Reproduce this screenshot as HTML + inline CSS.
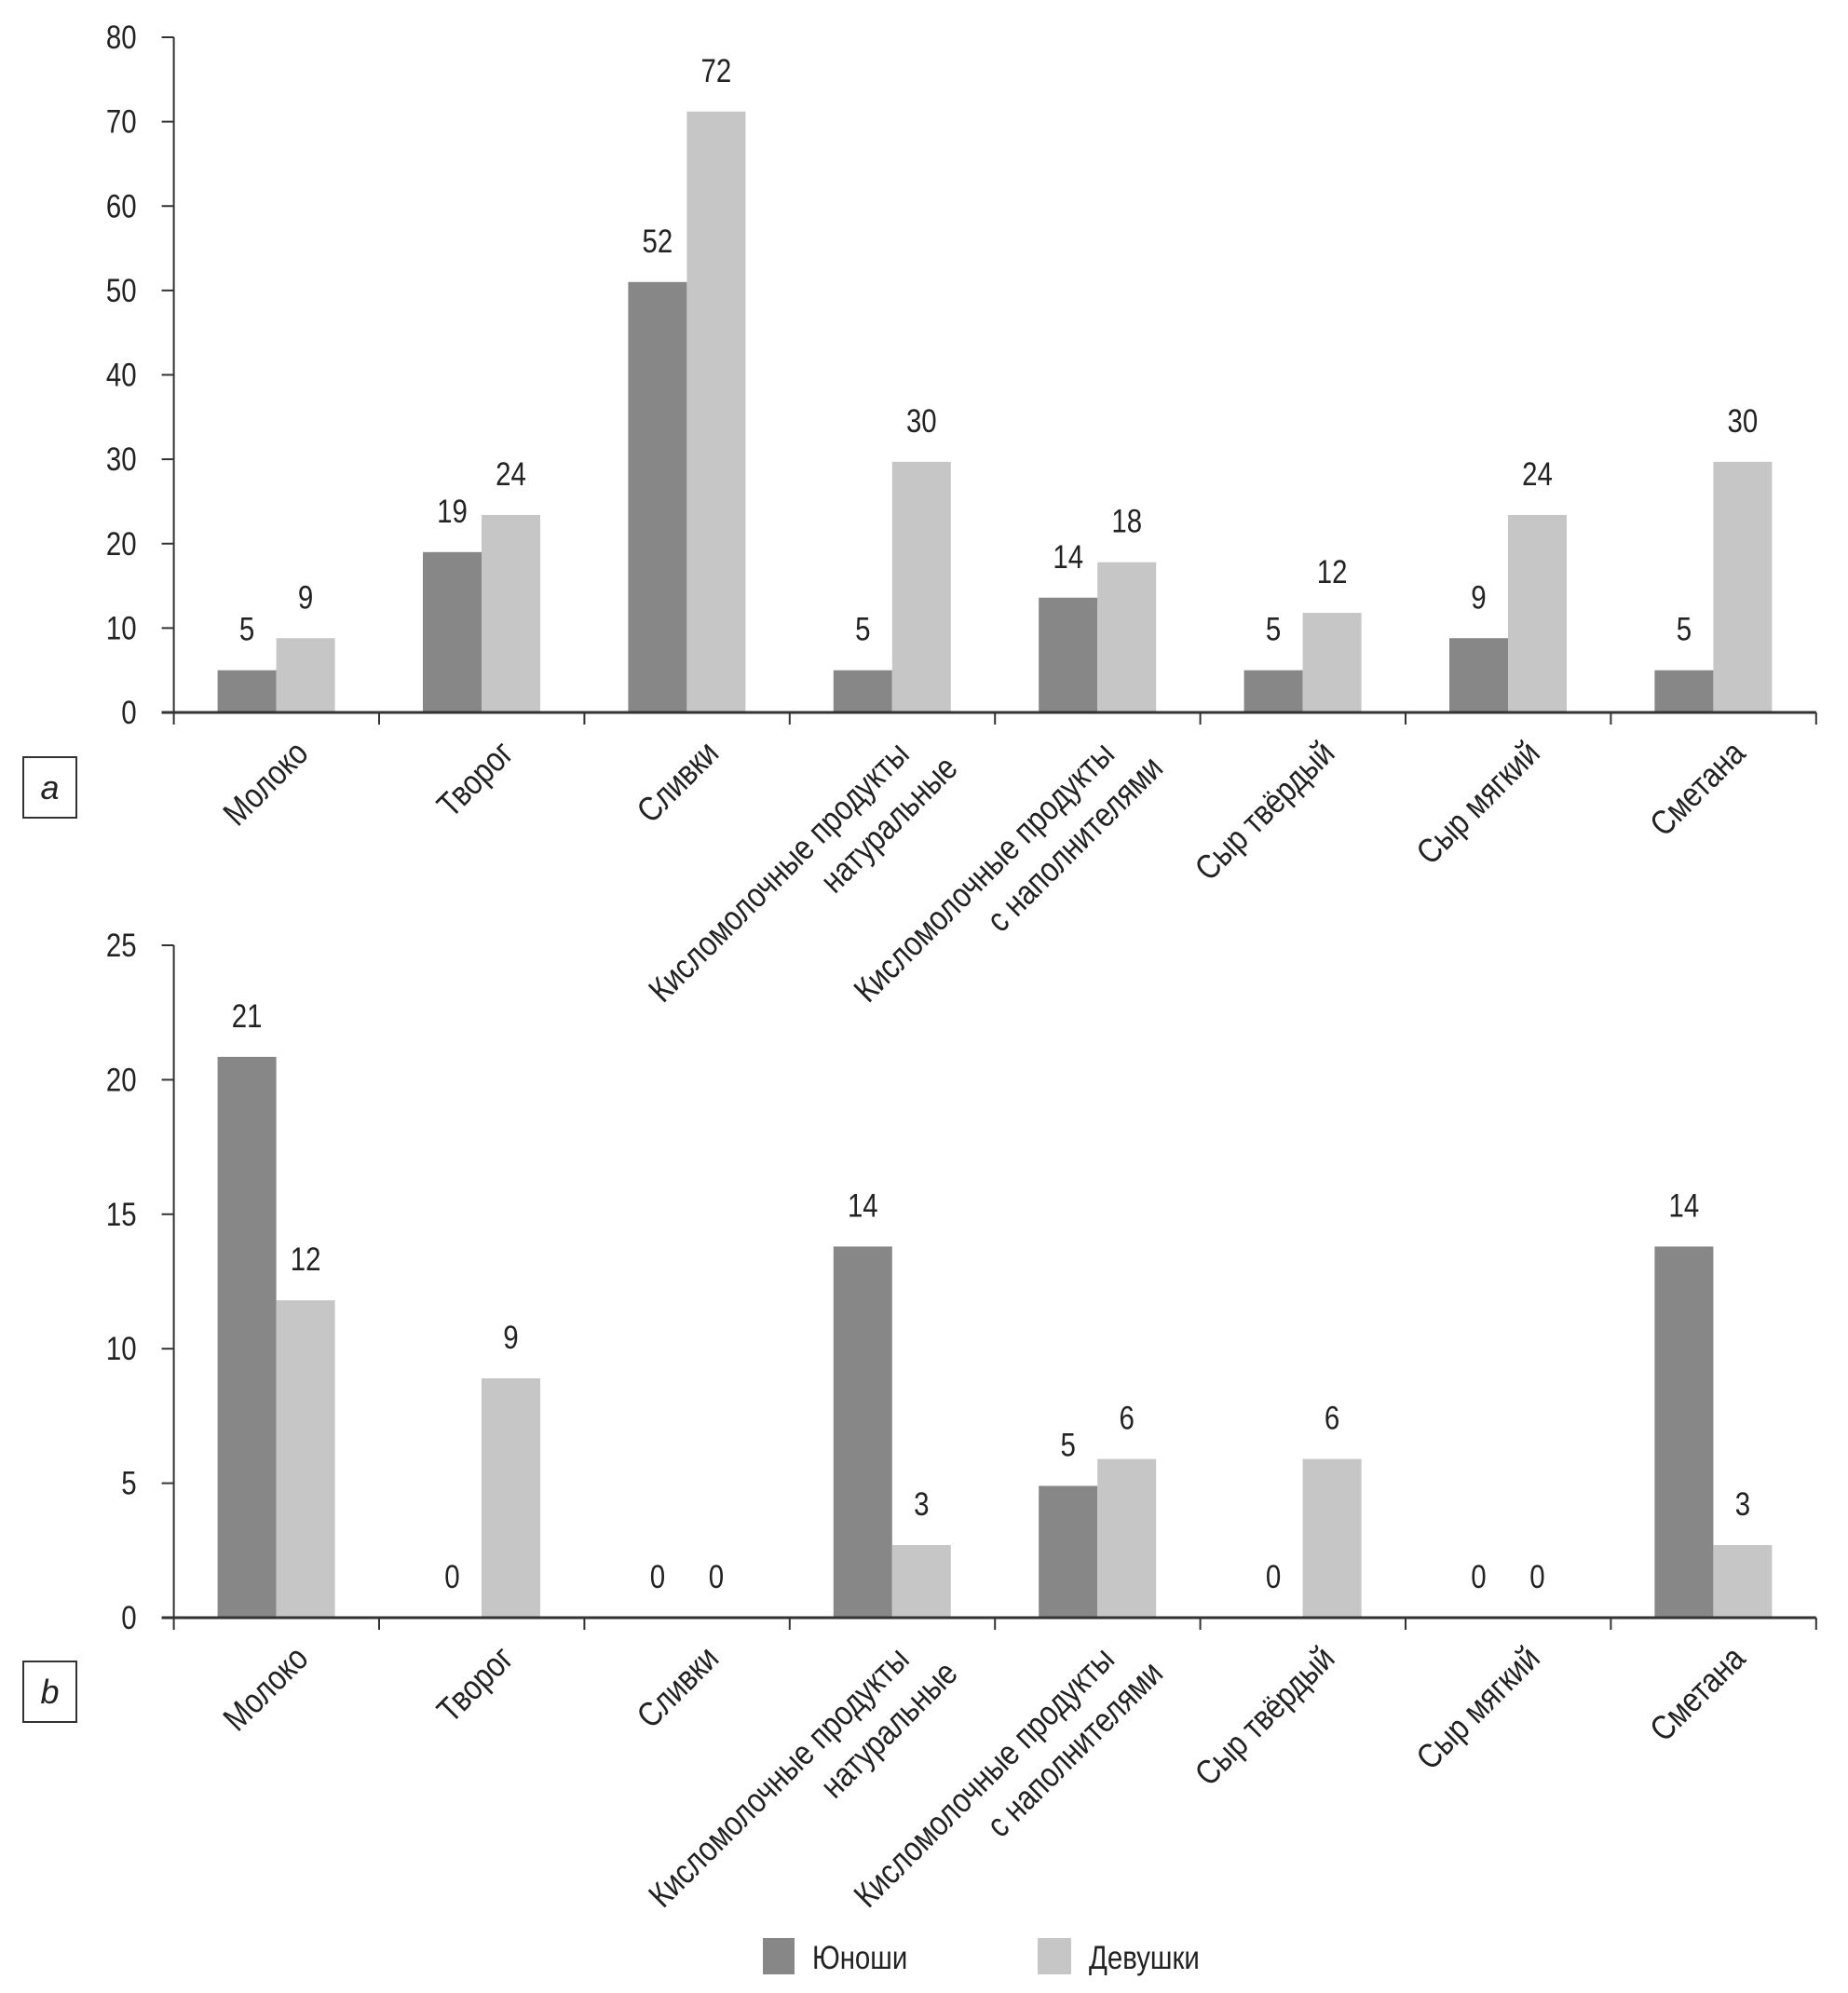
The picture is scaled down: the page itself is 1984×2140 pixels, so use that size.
<!DOCTYPE html>
<html><head><meta charset="utf-8"><style>
html,body{margin:0;padding:0;background:#fff;}
svg{display:block;}
text{font-family:"Liberation Sans Narrow","Liberation Sans","DejaVu Sans Condensed",sans-serif;fill:#222;}
</style></head><body>
<svg id="chart" width="1984" height="2140" viewBox="0 0 1984 2140" xmlns="http://www.w3.org/2000/svg"></svg>
<script>
const categoriesLine1 = ["Молоко","Творог","Сливки","Кисломолочные продукты","Кисломолочные продукты","Сыр твёрдый","Сыр мягкий","Сметана"];
const categoriesLine2 = ["","","","натуральные","с наполнителями","","",""];
const aBoys = [5,19,51,5,13.6,5,8.8,5];
const aGirls = [8.8,23.4,71.2,29.7,17.8,11.8,23.4,29.7];
const aBoysLabels = ["5","19","52","5","14","5","9","5"];
const aGirlsLabels = ["9","24","72","30","18","12","24","30"];
const bBoys = [20.85,0,0,13.8,4.9,0,0,13.8];
const bGirls = [11.8,8.9,0,2.7,5.9,5.9,0,2.7];
const bBoysLabels = ["21","0","0","14","5","0","0","14"];
const bGirlsLabels = ["12","9","0","3","6","6","0","3"];
const aTicks = [0,10,20,30,40,50,60,70,80];
const bTicks = [0,5,10,15,20,25];

const svg = document.getElementById('chart');
const NS = 'http://www.w3.org/2000/svg';
function mk(tag, attrs, parent){
  const e = document.createElementNS(NS, tag);
  for (const k in attrs) e.setAttribute(k, attrs[k]);
  (parent||svg).appendChild(e);
  return e;
}
const condensed = [];
const DARK = '#878787', LIGHT = '#c6c6c6';
const X0 = 186.6, CW = 220.4, GAP = 47, BW = 63;

function drawChart(name, y0, yTop, maxV, ticks, boys, girls, bl, gl, letter, boxY){
  const g = mk('g', {});
  
  
  const yScale = v => y0 - (v / maxV) * (y0 - yTop);
  const xCat = i => X0 + i * CW;
  const ya = mk('line', {x1:X0, y1:yTop, x2:X0, y2:y0, stroke:'#333', 'stroke-width':2}, g);
  
  
  ticks.forEach(t => {
    const y = yScale(t);
    const tk = mk('line', {x1:X0-13, y1:y, x2:X0, y2:y, stroke:'#333', 'stroke-width':2}, g);
    
    
    const tl = mk('text', {x:X0-40, y:y+12, 'text-anchor':'end', 'font-size':35}, g);
    tl.textContent = t;
    
    
    condensed.push(tl);
  });
  boys.forEach((v, i) => {
    const x = xCat(i) + GAP;
    const top = yScale(v);
    const r = mk('rect', {x:x, y:top, width:BW, height:y0-top, fill:DARK}, g);
    
    
    const t = mk('text', {x:x+BW/2, y:top-32, 'text-anchor':'middle', 'font-size':35}, g);
    t.textContent = bl[i];
    
    
    condensed.push(t);
  });
  girls.forEach((v, i) => {
    const x = xCat(i) + GAP + BW;
    const top = yScale(v);
    const r = mk('rect', {x:x, y:top, width:BW, height:y0-top, fill:LIGHT}, g);
    
    
    const t = mk('text', {x:x+BW/2, y:top-32, 'text-anchor':'middle', 'font-size':35}, g);
    t.textContent = gl[i];
    
    
    condensed.push(t);
  });
  const xa = mk('line', {x1:X0-13, y1:y0, x2:X0+8*CW, y2:y0, stroke:'#333', 'stroke-width':3}, g);
  
  
  for (let i = 0; i <= 8; i++) {
    const tk = mk('line', {x1:xCat(i), y1:y0, x2:xCat(i), y2:y0+13, stroke:'#333', 'stroke-width':2}, g);
    
    
  }
  categoriesLine1.forEach((c, i) => {
    const cx = xCat(i) + CW/2;
    const two = categoriesLine2[i] !== '';
    const ex = two ? cx + 20 : cx + 36;
    const ey = y0 + (two ? 47 : 46);
    const t = mk('text', {x:ex, y:ey, 'text-anchor':'end', 'font-size':37, transform:`rotate(-45 ${ex} ${ey})`}, g);
    t.textContent = c;
    
    
    condensed.push(t);
    if (two) {
      const ex2 = ex + 52, ey2 = ey + 15;
      const t2 = mk('text', {x:ex2, y:ey2, 'text-anchor':'end', 'font-size':37, transform:`rotate(-45 ${ex2} ${ey2})`}, g);
      t2.textContent = categoriesLine2[i];
      
      
      condensed.push(t2);
    }
  });
  const box = mk('rect', {x:25, y:boxY, width:57, height:65, fill:'#fff', stroke:'#333', 'stroke-width':2}, g);
  
  
  const lt = mk('text', {x:53.5, y:boxY+45, 'text-anchor':'middle', 'font-size':36, 'font-style':'italic'}, g);
  lt.textContent = letter;
  
  
}

drawChart('chart-a', 765, 40, 80, aTicks, aBoys, aGirls, aBoysLabels, aGirlsLabels, 'a', 813);
drawChart('chart-b', 1737, 1015, 25, bTicks, bBoys, bGirls, bBoysLabels, bGirlsLabels, 'b', 1784);

const lg = mk('g', {});


const s1 = mk('rect', {x:819, y:2081, width:34, height:39, fill:DARK}, lg);


const l1 = mk('text', {x:872, y:2114, 'font-size':35}, lg);
l1.textContent = 'Юноши';


condensed.push(l1);
const s2 = mk('rect', {x:1114, y:2081, width:36, height:39, fill:LIGHT}, lg);


const l2 = mk('text', {x:1169, y:2114, 'font-size':35}, lg);
l2.textContent = 'Девушки';


condensed.push(l2);

condensed.forEach(t => {
  const w = t.getComputedTextLength();
  if (w > 0) {
    t.setAttribute('textLength', (w * 0.84).toFixed(1));
    t.setAttribute('lengthAdjust', 'spacingAndGlyphs');
  }
});
</script>
</body></html>
